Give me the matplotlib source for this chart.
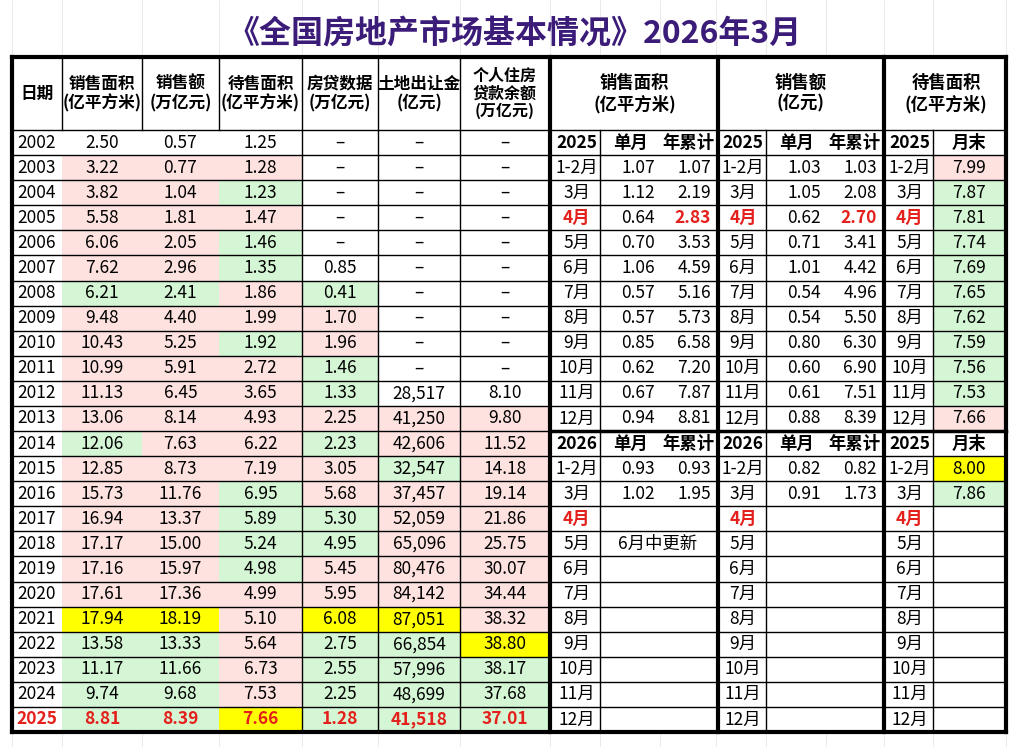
import matplotlib
matplotlib.use("Agg")
import matplotlib.pyplot as plt
from matplotlib.patches import Rectangle

plt.rcParams['font.family'] = ['Noto Sans CJK SC', 'DejaVu Sans']

title = "《全国房地产市场基本情况》2026年3月"
years = [str(y) for y in range(2002, 2026)]
area = ["2.50","3.22","3.82","5.58","6.06","7.62","6.21","9.48","10.43","10.99","11.13","13.06",
        "12.06","12.85","15.73","16.94","17.17","17.16","17.61","17.94","13.58","11.17","9.74","8.81"]
sales = ["0.57","0.77","1.04","1.81","2.05","2.96","2.41","4.40","5.25","5.91","6.45","8.14",
         "7.63","8.73","11.76","13.37","15.00","15.97","17.36","18.19","13.33","11.66","9.68","8.39"]
stock = ["1.25","1.28","1.23","1.47","1.46","1.35","1.86","1.99","1.92","2.72","3.65","4.93",
         "6.22","7.19","6.95","5.89","5.24","4.98","4.99","5.10","5.64","6.73","7.53","7.66"]
loans = ["–"]*5 + ["0.85","0.41","1.70","1.96","1.46","1.33","2.25",
         "2.23","3.05","5.68","5.30","4.95","5.45","5.95","6.08","2.75","2.55","2.25","1.28"]
land = ["–"]*10 + ["28,517","41,250","42,606","32,547","37,457","52,059","65,096","80,476",
         "84,142","87,051","66,854","57,996","48,699","41,518"]
balance = ["–"]*10 + ["8.10","9.80","11.52","14.18","19.14","21.86","25.75","30.07",
           "34.44","38.32","38.80","38.17","37.68","37.01"]
# cell shading codes: w white, p pink (up), g green (down), y yellow (peak)
c_area  = "wppppp" "gppppp" "gppppp" "pygggg"
c_sales = "wppppp" "gppppp" "pppppp" "pygggg"
c_stock = "wpgpgg" "ppgppp" "ppgggg" "pppppy"
c_loans = "wwwwww" "gppggp" "gppggp" "pygggg"
c_land  = "wwwwww" "wwwwwp" "pgpppp" "pygggg"
c_bal   = "wwwwww" "wwwwwp" "pppppp" "ppyggg"
left_headers = ["日期", "销售面积\n(亿平方米)", "销售额\n(万亿元)", "待售面积\n(亿平方米)",
                "房贷数据\n(万亿元)", "土地出让金\n(亿元)", "个人住房\n贷款余额\n(万亿元)"]

months_25 = ["1-2月","3月","4月","5月","6月","7月","8月","9月","10月","11月","12月"]
area25_m = ["1.07","1.12","0.64","0.70","1.06","0.57","0.57","0.85","0.62","0.67","0.94"]
area25_c = ["1.07","2.19","2.83","3.53","4.59","5.16","5.73","6.58","7.20","7.87","8.81"]
sales25_m = ["1.03","1.05","0.62","0.71","1.01","0.54","0.54","0.80","0.60","0.61","0.88"]
sales25_c = ["1.03","2.08","2.70","3.41","4.42","4.96","5.50","6.30","6.90","7.51","8.39"]
stock25 = ["7.99","7.87","7.81","7.74","7.69","7.65","7.62","7.59","7.56","7.53","7.66"]
c_stock25 = "pgggggggggp"
area26_m = ["0.93","1.02"]
area26_c = ["0.93","1.95"]
sales26_m = ["0.82","0.91"]
sales26_c = ["0.82","1.73"]
stock26 = ["8.00","7.86"]
c_stock26 = "yg"
note26 = "6月中更新"
right_headers = ["销售面积\n(亿平方米)", "销售额\n(亿元)", "待售面积\n(亿平方米)"]

COL = {"w": "white", "p": "#fde2e0", "g": "#d5f6d5", "y": "#ffff00"}
RED = "#e3201b"
FS = 12.5

fig = plt.figure(figsize=(10.14, 7.47), dpi=100)
ax = fig.add_axes([0, 0, 1, 1])
ax.set_xlim(0, 1014); ax.set_ylim(747, 0); ax.axis("off")

for x in [12, 62, 142, 219, 302, 378, 460, 550, 600, 660, 716, 766, 826, 884, 933, 1006]:
    ax.plot([x, x], [0, 57], color="#e6e6e6", lw=0.6, zorder=0)
    ax.plot([x, x], [732, 747], color="#e6e6e6", lw=0.6, zorder=0)

ax.text(515, 34, title, ha="center", va="center", fontsize=23, fontweight="bold", color="#3b1c78")

top, hb = 57, 130
rh = (732 - hb) / 24
lx = [12, 62, 142, 219, 302, 378, 460, 550]

def cell(x0, x1, r, fc):
    ax.add_patch(Rectangle((x0, hb + r*rh), x1-x0, rh, facecolor=fc, edgecolor="none", zorder=1))

def txt(x, r, s, color="black", bold=False, ha="center", fs=FS):
    ax.text(x, hb + (r+0.5)*rh, s, ha=ha, va="center", fontsize=fs, color=color,
            fontweight="bold" if bold else "normal", zorder=3)

cols = [area, sales, stock, loans, land, balance]
ccols = [c_area, c_sales, c_stock, c_loans, c_land, c_bal]
for r, y in enumerate(years):
    red = (y == "2025")
    txt((lx[0]+lx[1])/2, r, y, RED if red else "black", bold=red)
    for j, (vals, cc) in enumerate(zip(cols, ccols)):
        cell(lx[j+1], lx[j+2], r, COL[cc[r]])
        txt((lx[j+1]+lx[j+2])/2, r, vals[r], RED if red else "black", bold=red)
for j, h in enumerate(left_headers):
    ax.text((lx[j]+lx[j+1])/2, (top+hb)/2, h, ha="center", va="center", fontsize=12 if j < 6 else 11.5,
            fontweight="bold", linespacing=1.1, zorder=3)

secs = [(553, 600, 660, 716), (720, 766, 826, 882), (886, 933, None, 1006)]
for (x0, x1, x2, x3), h in zip(secs, right_headers):
    ax.text((x0+x3)/2, (top+hb)/2, h, ha="center", va="center", fontsize=12.5, fontweight="bold",
            linespacing=1.2, zorder=3)

def section_block(r0, yearlab, data):
    for k, (x0, x1, x2, x3) in enumerate(secs):
        txt((x0+x1)/2, r0, yearlab[k], bold=True)
        if x2 is not None:
            txt((x1+x2)/2, r0, "单月", bold=True)
            txt((x2+x3)/2, r0, "年累计", bold=True)
        else:
            txt((x1+x3)/2, r0, "月末", bold=True)
    for i, m in enumerate(months_25):
        r = r0 + 1 + i
        red = (m == "4月")
        for k, (x0, x1, x2, x3) in enumerate(secs):
            txt((x0+x1)/2, r, m, RED if red else "black", bold=red)
        (a_m, a_c, s_m, s_c, st, cst) = data
        hl = red and r0 == 0
        if i < len(a_m):
            txt(655, r, a_m[i], ha="right"); txt(711, r, a_c[i], RED if hl else "black", bold=hl, ha="right")
            txt(821, r, s_m[i], ha="right"); txt(877, r, s_c[i], RED if hl else "black", bold=hl, ha="right")
        if i < len(st):
            cell(933, 1006, r, COL[cst[i]])
            txt(969, r, st[i])

section_block(0, ["2025", "2025", "2025"], (area25_m, area25_c, sales25_m, sales25_c, stock25, c_stock25))
section_block(12, ["2026", "2026", "2025"], (area26_m, area26_c, sales26_m, sales26_c, stock26, c_stock26))
txt(658, 12 + 1 + 3, note26)

L = dict(color="black", zorder=2)
for r in range(25):
    y = hb + r*rh
    ax.plot([12, 1006], [y, y], lw=1.0, **L)
ax.plot([12, 1006], [top, top], lw=3, **L)
ax.plot([12, 1006], [732, 732], lw=3, **L)
ax.plot([550, 1006], [hb + 12*rh]*2, lw=2.5, **L)
for x in lx[1:4]:
    ax.plot([x, x], [top, hb], lw=1.0, **L)
for x in lx[4:-1]:
    ax.plot([x, x], [top, 732], lw=1.0, **L)
for x in [12, 550, 718, 884, 1006]:
    ax.plot([x, x], [top, 732], lw=3, **L)
for x in [600, 766, 933]:
    ax.plot([x, x], [hb, 732], lw=1.0, **L)

fig.savefig("out.png", dpi=100)
